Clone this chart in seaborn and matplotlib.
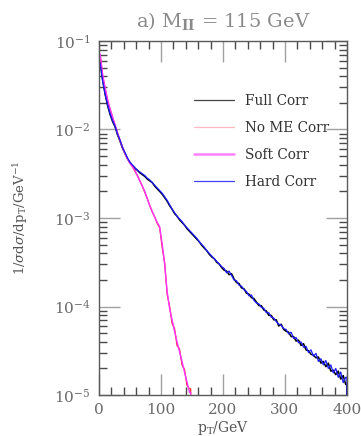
import numpy as np
import pandas as pd
import matplotlib
matplotlib.use("Agg")
import matplotlib.pyplot as plt
from matplotlib.lines import Line2D
import seaborn as sns

# Histogram bins: 4 GeV wide, centres 2, 6, ..., 398 GeV
bin_width = 4.0
pt_low, pt_high = 0.0, 400.0

# log10 of 1/sigma dsigma/dpT per bin
hard_corr_log10 = [
    -1.25, -1.45, -1.60, -1.72, -1.82, -1.90, -1.96, -2.05, -2.12, -2.20,
    -2.26, -2.32, -2.37, -2.40, -2.43, -2.46, -2.48, -2.50, -2.52, -2.55,
    -2.57, -2.60, -2.63, -2.66, -2.69, -2.72, -2.76, -2.80, -2.85, -2.90,
    -2.94, -2.98, -3.01, -3.04, -3.08, -3.11, -3.14, -3.17, -3.20, -3.23,
    -3.27, -3.30, -3.33, -3.37, -3.40, -3.43, -3.46, -3.49, -3.52, -3.55,
    -3.57, -3.62, -3.60, -3.65, -3.70, -3.71, -3.76, -3.77, -3.81, -3.83,
    -3.88, -3.87, -3.93, -3.96, -3.97, -4.01, -4.02, -4.07, -4.07, -4.12,
    -4.13, -4.17, -4.20, -4.21, -4.25, -4.26, -4.31, -4.29, -4.36, -4.35,
    -4.41, -4.40, -4.46, -4.45, -4.52, -4.49, -4.56, -4.53, -4.62, -4.59,
    -4.66, -4.61, -4.70, -4.66, -4.75, -4.70, -4.80, -4.74, -4.86, -4.80,
]
full_corr_log10 = [
    -1.24, -1.44, -1.60, -1.73, -1.83, -1.91, -1.97, -2.06, -2.13, -2.21,
    -2.27, -2.33, -2.37, -2.41, -2.44, -2.46, -2.49, -2.51, -2.53, -2.56,
    -2.58, -2.60, -2.64, -2.67, -2.70, -2.73, -2.77, -2.81, -2.86, -2.90,
    -2.95, -2.98, -3.02, -3.05, -3.08, -3.12, -3.15, -3.18, -3.21, -3.24,
    -3.27, -3.31, -3.34, -3.37, -3.41, -3.44, -3.46, -3.50, -3.52, -3.56,
    -3.59, -3.60, -3.64, -3.63, -3.69, -3.73, -3.74, -3.79, -3.80, -3.85,
    -3.86, -3.90, -3.91, -3.95, -3.99, -3.99, -4.04, -4.05, -4.10, -4.10,
    -4.15, -4.15, -4.22, -4.20, -4.26, -4.28, -4.29, -4.34, -4.34, -4.39,
    -4.38, -4.44, -4.42, -4.49, -4.50, -4.54, -4.55, -4.58, -4.57, -4.64,
    -4.62, -4.68, -4.64, -4.73, -4.72, -4.77, -4.73, -4.82, -4.78, -4.88,
]
soft_corr_log10 = [
    -1.15, -1.38, -1.53, -1.66, -1.77, -1.86, -1.95, -2.04, -2.12, -2.20,
    -2.27, -2.33, -2.38, -2.42, -2.46, -2.52, -2.58, -2.64, -2.70, -2.78,
    -2.86, -2.93, -2.99, -3.05, -3.10, -3.29, -3.52, -3.83, -4.02, -4.15,
    -4.28, -4.40, -4.51, -4.62, -4.74, -4.85, -4.97,
]
no_me_corr_log10 = [
    -1.16, -1.39, -1.54, -1.67, -1.77, -1.86, -1.95, -2.04, -2.12, -2.20,
    -2.27, -2.33, -2.38, -2.42, -2.47, -2.52, -2.58, -2.64, -2.71, -2.78,
    -2.86, -2.93, -2.99, -3.06, -3.11, -3.33, -3.50, -3.86, -4.00, -4.19,
    -4.25, -4.44, -4.48, -4.66, -4.71, -4.89, -4.93,
]

series_names = ["Full Corr", "No ME Corr", "Soft Corr", "Hard Corr"]
series_colors = ["#000000", "#ff2a2a", "#ff33ff", "#1a1aff"]
series_widths = [1.1, 0.9, 1.0, 0.9]
legend_colors = ["#444444", "#ffb8c0", "#ff80ff", "#4040ff"]
legend_widths = [0.9, 0.9, 1.8, 0.9]

x_ticks = [0, 100, 200, 300, 400]
y_decades = [-5, -4, -3, -2, -1]

FLOOR = 1e-8


def curve_frame(log_values, name):
    """Bin-centre outline that rises from zero at pT = 0 and drops back at the last edge."""
    vals = [10.0 ** v for v in log_values]
    n = len(vals)
    centres = [pt_low + (i + 0.5) * bin_width for i in range(n)]
    last_edge = pt_low + n * bin_width
    xs = [pt_low, pt_low] + centres + [last_edge, last_edge]
    ys = [FLOOR, vals[0]] + vals + [vals[-1], FLOOR]
    return pd.DataFrame({"pt": xs, "y": ys, "series": name})


frames = [
    curve_frame(full_corr_log10, series_names[0]),
    curve_frame(no_me_corr_log10, series_names[1]),
    curve_frame(soft_corr_log10, series_names[2]),
    curve_frame(hard_corr_log10, series_names[3]),
]

sns.set_style("ticks")
plt.rcParams["font.family"] = ["DejaVu Serif"]
plt.rcParams["mathtext.fontset"] = "dejavuserif"

fig = plt.figure(figsize=(3.61, 4.36), dpi=100)
ax = fig.add_axes([0.274, 0.094, 0.687, 0.812])

for df, col, lw in zip(frames, series_colors, series_widths):
    sns.lineplot(data=df, x="pt", y="y", ax=ax, color=col, linewidth=lw,
                 estimator=None, sort=False, legend=False)

ax.set_yscale("log")
ax.set_xlim(pt_low, pt_high)
ax.set_ylim(1e-5, 1e-1)

spine_col = "#5a5a5a"
for s in ax.spines.values():
    s.set_color(spine_col)
    s.set_linewidth(1.0)

ax.set_xticks(x_ticks)
ax.set_xticklabels([str(t) for t in x_ticks])
ax.set_xticks(np.arange(20, 400, 20), minor=True)
ax.set_yticks([10.0 ** d for d in y_decades])
ax.set_yticklabels([r"$10^{%d}$" % d for d in y_decades])
ax.yaxis.set_minor_locator(matplotlib.ticker.LogLocator(base=10, subs=np.arange(2, 10)))
ax.yaxis.set_minor_formatter(matplotlib.ticker.NullFormatter())

ax.tick_params(which="major", direction="in", top=True, right=True, length=15,
               width=1.0, color="#a0a0a0", labelcolor="#6a6a6a", labelsize=11, pad=6)
ax.tick_params(which="minor", direction="in", top=True, right=True, length=6,
               width=1.0, color="#4a4a4a")

ax.set_xlabel(r"p$_{\rm T}$/GeV", color="#555555", fontsize=10, labelpad=1)
ax.set_ylabel(r"1/$\sigma$d$\sigma$/dp$_{\rm T}$/GeV$^{-1}$", color="#555555",
              fontsize=9.5, labelpad=17)

ax.set_title(r"a) M$_{\mathbf{II}}$ = 115 GeV", color="#8a8a8a", fontsize=14, pad=10)

handles = [Line2D([], [], color=c, linewidth=w) for c, w in zip(legend_colors, legend_widths)]
leg = ax.legend(handles, series_names, loc="upper left", bbox_to_anchor=(0.335, 0.885),
                frameon=False, fontsize=9.8, handlelength=2.9, handletextpad=0.85,
                labelspacing=0.95)
for t in leg.get_texts():
    t.set_color("#333333")

fig.savefig("out.png", dpi=100)
